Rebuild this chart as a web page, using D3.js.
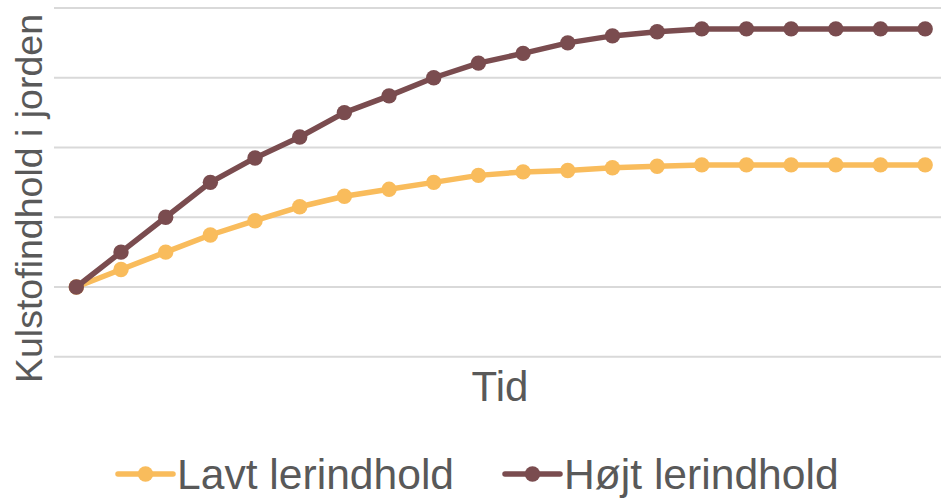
<!DOCTYPE html>
<html>
<head>
<meta charset="utf-8">
<script src="https://cdn.jsdelivr.net/npm/d3@7/dist/d3.min.js"></script>
<style>
  html, body { margin: 0; padding: 0; background: #fff; }
  svg { display: block; }
  text { font-family: "Liberation Sans", Arial, sans-serif; fill: #595959; }
</style>
</head>
<body>
<svg id="chart" width="941" height="498"></svg>
<script>
// Time steps (unlabelled on the axis)
const periods = d3.range(1, 21);

// Soil carbon content for low and high clay content
const lavtLerindhold = [1.0, 1.25, 1.5, 1.745, 1.95, 2.15, 2.3, 2.4, 2.5, 2.6,
                        2.65, 2.67, 2.71, 2.73, 2.75, 2.75, 2.75, 2.75, 2.75, 2.75];
const hojtLerindhold = [1.0, 1.5, 2.0, 2.5, 2.85, 3.15, 3.5, 3.74, 4.0, 4.21,
                        4.35, 4.5, 4.6, 4.66, 4.7, 4.7, 4.7, 4.7, 4.7, 4.7];

const gridValues = [0, 1, 2, 3, 4, 5];

const seriesNames = ["Lavt lerindhold", "Højt lerindhold"];
const seriesColors = ["#F9BC5C", "#7A4C4F"];
const seriesData = [lavtLerindhold, hojtLerindhold];

const svg = d3.select("#chart");

const x = d3.scalePoint()
  .domain(periods)
  .range([54, 947.5])
  .padding(0.5);

const y = d3.scaleLinear()
  .domain([0, 5])
  .range([356.7, 8]);

// Horizontal gridlines
svg.append("g")
  .selectAll("line")
  .data(gridValues)
  .join("line")
  .attr("x1", 54)
  .attr("x2", 941)
  .attr("y1", d => y(d))
  .attr("y2", d => y(d))
  .attr("stroke", "#D9D9D9")
  .attr("stroke-width", 2);

// Series lines and markers
const line = d3.line()
  .x((d, i) => x(periods[i]))
  .y(d => y(d));

seriesData.forEach((values, s) => {
  const g = svg.append("g");
  g.append("path")
    .datum(values)
    .attr("d", line)
    .attr("fill", "none")
    .attr("stroke", seriesColors[s])
    .attr("stroke-width", 5.5)
    .attr("stroke-linejoin", "round");
  g.selectAll("circle")
    .data(values)
    .join("circle")
    .attr("cx", (d, i) => x(periods[i]))
    .attr("cy", d => y(d))
    .attr("r", 7.7)
    .attr("fill", seriesColors[s]);
});

// Axis titles
svg.append("text")
  .attr("x", 500)
  .attr("y", 401)
  .attr("text-anchor", "middle")
  .style("font-size", "42px")
  .text("Tid");

svg.append("text")
  .attr("transform", "translate(42,198.5) rotate(-90)")
  .attr("text-anchor", "middle")
  .style("font-size", "37.5px")
  .text("Kulstofindhold i jorden");

// Legend
const legendItems = [
  { name: seriesNames[0], color: seriesColors[0], x0: 118 },
  { name: seriesNames[1], color: seriesColors[1], x0: 505 }
];
const legend = svg.append("g");
legendItems.forEach(item => {
  legend.append("line")
    .attr("x1", item.x0)
    .attr("x2", item.x0 + 55)
    .attr("y1", 474)
    .attr("y2", 474)
    .attr("stroke", item.color)
    .attr("stroke-width", 5.5)
    .attr("stroke-linecap", "round");
  legend.append("circle")
    .attr("cx", item.x0 + 27.5)
    .attr("cy", 474)
    .attr("r", 7.7)
    .attr("fill", item.color);
  legend.append("text")
    .attr("x", item.x0 + 59)
    .attr("y", 489)
    .style("font-size", "42.6px")
    .text(item.name);
});
</script>
</body>
</html>
